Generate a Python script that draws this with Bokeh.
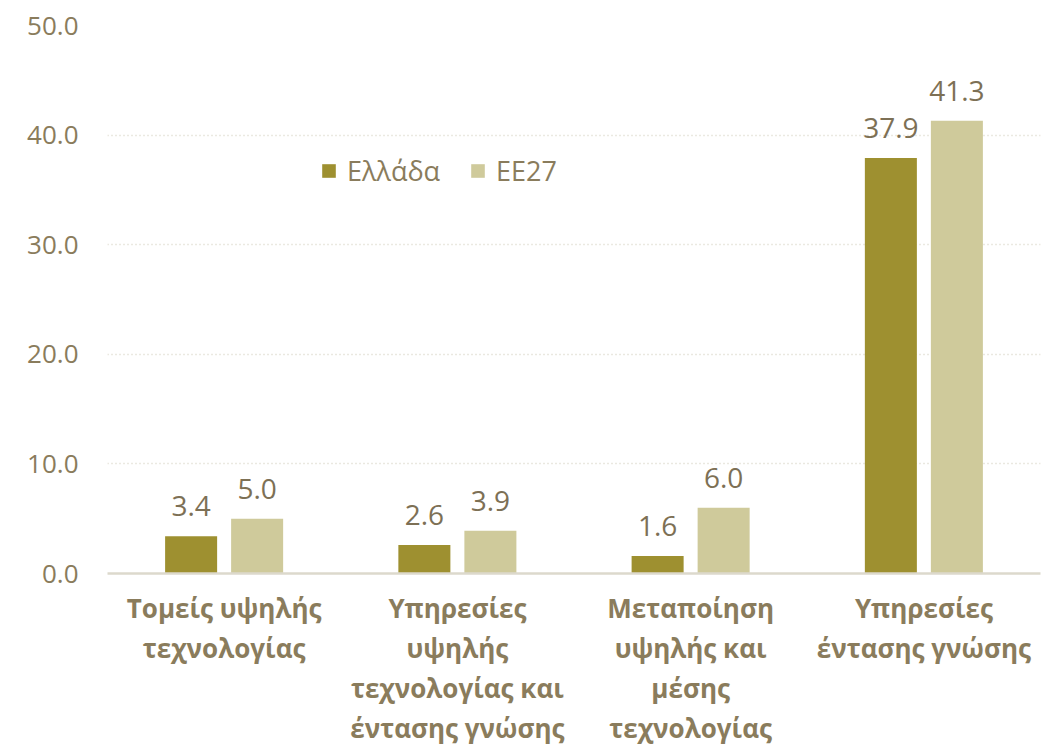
from bokeh.plotting import figure
from bokeh.models import (ColumnDataSource, FixedTicker, NumeralTickFormatter, Legend,
                          LegendItem, FactorRange, Range1d)
from bokeh.transform import dodge
from bokeh.core.properties import value
from bokeh.embed import file_html
from bokeh.resources import INLINE

categories = ["Τομείς υψηλής\nτεχνολογίας",
              "Υπηρεσίες\nυψηλής\nτεχνολογίας και\nέντασης γνώσης",
              "Μεταποίηση\nυψηλής και\nμέσης\nτεχνολογίας",
              "Υπηρεσίες\nέντασης γνώσης"]
series_names = ["Ελλάδα", "ΕΕ27"]
greece = [3.4, 2.6, 1.6, 37.9]
eu27 = [5.0, 3.9, 6.0, 41.3]
y_ticks = [0, 10, 20, 30, 40, 50]

colors = ["#9E9030", "#CFCA9B"]
TEXT = "#8A7C5C"
VALTEXT = "#7D7055"
FONT = "Open Sans"

src = ColumnDataSource(dict(
    cat=categories, greece=greece, eu27=eu27,
    g_lab=[f"{v:.1f}" for v in greece], e_lab=[f"{v:.1f}" for v in eu27]))

p = figure(width=1052, height=749, output_backend="svg", toolbar_location=None,
           x_range=FactorRange(factors=categories, range_padding=0),
           y_range=Range1d(0, 50),
           min_border_left=107, min_border_right=12, min_border_top=25, min_border_bottom=175)
p.outline_line_color = None
p.background_fill_color = "white"
p.border_fill_color = "white"

off = 0.1415
w = 0.223
r1 = p.vbar(x=dodge("cat", -off, range=p.x_range), top="greece", width=w, source=src,
            fill_color=colors[0], line_color=None)
r2 = p.vbar(x=dodge("cat", off, range=p.x_range), top="eu27", width=w, source=src,
            fill_color=colors[1], line_color=None)

for col, lab, dx in (("greece", "g_lab", -off), ("eu27", "e_lab", off)):
    p.text(x=dodge("cat", dx, range=p.x_range), y=col, text=lab, source=src,
           text_align="center", text_baseline="alphabetic", y_offset=-30,
           text_font=value(FONT), text_font_size="28px", text_color=VALTEXT)

# axes
p.yaxis.ticker = FixedTicker(ticks=y_ticks)
p.yaxis.formatter = NumeralTickFormatter(format="0.0")
p.yaxis.axis_line_color = None
p.yaxis.major_tick_line_color = None
p.yaxis.major_tick_out = 0
p.yaxis.major_tick_in = 0
p.yaxis.minor_tick_line_color = None
p.yaxis.major_label_text_font = FONT
p.yaxis.major_label_text_font_size = "26px"
p.yaxis.major_label_text_color = TEXT
p.yaxis.major_label_standoff = 29

p.xaxis.axis_line_color = "#DCD9CC"
p.xaxis.axis_line_width = 2.5
p.xaxis.major_tick_line_color = None
p.xaxis.major_tick_out = 0
p.xaxis.major_tick_in = 0
p.xaxis.minor_tick_line_color = None
p.xaxis.major_label_text_font = FONT
p.xaxis.major_label_text_font_style = "bold"
p.xaxis.major_label_text_font_size = "26px"
p.xaxis.major_label_text_color = TEXT
p.xaxis.major_label_text_line_height = 1.12
p.xaxis.major_label_standoff = 16

p.xgrid.grid_line_color = None
p.ygrid.grid_line_color = "#D6D2C2"
p.ygrid.grid_line_dash = "1 3"
p.ygrid.grid_line_width = 1.5

legend = Legend(items=[LegendItem(label=series_names[0], renderers=[r1]),
                       LegendItem(label=series_names[1], renderers=[r2])],
                orientation="horizontal", location=(213, 384),
                padding=0, margin=0, spacing=29, label_standoff=10,
                glyph_width=17, glyph_height=17,
                border_line_color=None, background_fill_alpha=0,
                label_text_font=FONT, label_text_font_size="27px",
                label_text_color=TEXT)
p.add_layout(legend, "center")

open("out.html", "w").write(file_html(p, INLINE))
